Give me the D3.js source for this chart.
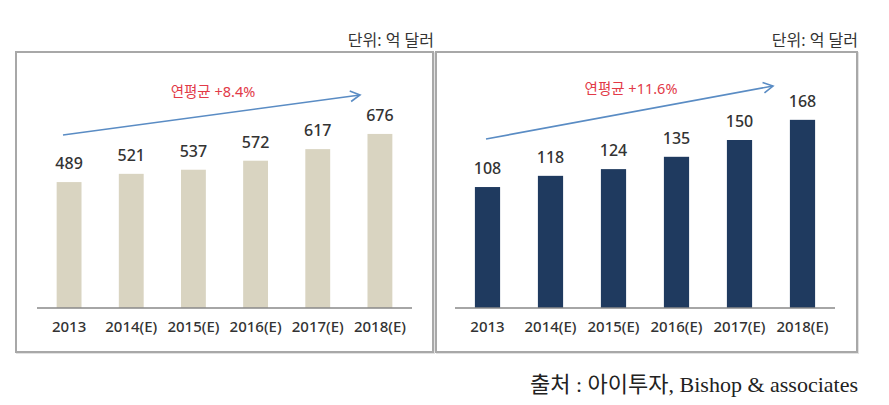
<!DOCTYPE html>
<html><head><meta charset="utf-8">
<script src="https://cdn.jsdelivr.net/npm/d3@7"></script>
<style>
html,body{margin:0;padding:0;background:#fff;}
svg{display:block;}
</style></head>
<body>
<svg id="chart" width="889" height="405"></svg>
<script>
const categories = ["2013","2014(E)","2015(E)","2016(E)","2017(E)","2018(E)"];
const leftValues = [489, 521, 537, 572, 617, 676];
const rightValues = [108, 118, 124, 135, 150, 168];
const leftGrowth = "연평균 +8.4%";
const rightGrowth = "연평균 +11.6%";
const unitLabel = "단위: 억 달러";
const sourceLabel = "출처 : 아이투자, Bishop & associates";

const svg = d3.select("#chart");
const sans = "'Noto Sans','Noto Sans CJK KR',sans-serif";

function panel(cfg){
  const g = svg.append("g");
  g.append("rect").attr("x", cfg.box[0]+1).attr("y", cfg.box[1]+1)
    .attr("width", cfg.box[2]-cfg.box[0]).attr("height", cfg.box[3]-cfg.box[1])
    .attr("fill", "none").attr("stroke", "#e2e2e2").attr("stroke-width", 2);
  g.append("rect").attr("x", cfg.box[0]).attr("y", cfg.box[1])
    .attr("width", cfg.box[2]-cfg.box[0]).attr("height", cfg.box[3]-cfg.box[1])
    .attr("fill", "#fff").attr("stroke", "#a8a8a8").attr("stroke-width", 2);
  g.append("text").attr("x", cfg.box[2]+1).attr("y", cfg.box[1]-6)
    .attr("text-anchor","end").attr("font-family", sans).attr("font-size", 16)
    .attr("fill", "#333").text(unitLabel);

  const x = d3.scaleBand().domain(categories).range(cfg.xr).paddingInner(0.6).paddingOuter(0.3);
  const y = d3.scaleLinear().domain(cfg.yd).range([cfg.base, cfg.base - cfg.yh]);

  g.selectAll("rect.bar").data(cfg.values).enter().append("rect")
    .attr("class","bar")
    .attr("x", (d,i)=>x(categories[i]))
    .attr("width", x.bandwidth())
    .attr("y", d=>y(d))
    .attr("height", d=>y(0)-y(d))
    .attr("fill", cfg.color);

  g.selectAll("text.val").data(cfg.values).enter().append("text")
    .attr("class","val")
    .attr("x", (d,i)=>x(categories[i]) + x.bandwidth()/2)
    .attr("y", d=>y(d) - 13)
    .attr("text-anchor","middle").attr("font-family", sans)
    .attr("font-size", 16).attr("font-weight", 500).attr("fill", "#333")
    .text(d=>d);

  const axis = d3.axisBottom(x).tickSize(0).tickPadding(10);
  const ag = g.append("g").attr("transform", `translate(0,${cfg.base})`).call(axis);
  ag.select(".domain").attr("stroke", "#888").attr("stroke-width", 1.5)
    .attr("d", `M${cfg.xr[0]-1},0H${cfg.xr[1]+1}`);
  ag.selectAll(".tick text").attr("font-family", sans).attr("font-size", 15)
    .attr("font-weight", 500).attr("fill", "#333").attr("dy", "0.9em");

  const [x1,y1,x2,y2] = cfg.arrow;
  g.append("line").attr("x1",x1).attr("y1",y1).attr("x2",x2).attr("y2",y2)
    .attr("stroke","#5a8cc4").attr("stroke-width",1.6);
  const ang = Math.atan2(y2-y1, x2-x1);
  const L = 11, a = 0.5;
  const p = `M${x2-L*Math.cos(ang-a)},${y2-L*Math.sin(ang-a)}L${x2},${y2}L${x2-L*Math.cos(ang+a)},${y2-L*Math.sin(ang+a)}`;
  g.append("path").attr("d", p).attr("fill","none").attr("stroke","#5a8cc4").attr("stroke-width",1.6);
  g.append("text").attr("x", cfg.growthPos[0]).attr("y", cfg.growthPos[1])
    .attr("text-anchor","middle").attr("font-family", sans).attr("font-size", 14.5)
    .attr("fill", "#e23a48").text(cfg.growth);
}

panel({box:[16,52,433,352], xr:[38,411], base:308, yd:[0,700], yh:180.25,
  values:leftValues, color:"#d9d4c1", arrow:[63,135,360,95], growth:leftGrowth, growthPos:[213,97]});
panel({box:[436,52,857,352], xr:[456,834], base:308, yd:[0,180], yh:201.6,
  values:rightValues, color:"#1f3a5f", arrow:[486,139,773,86], growth:rightGrowth, growthPos:[631,94]});

svg.append("text").attr("x", 858).attr("y", 392).attr("text-anchor","end")
  .attr("font-family","'Liberation Serif','Noto Sans CJK KR',serif").attr("font-size", 22)
  .attr("fill","#222").text(sourceLabel);
</script>
</body></html>
